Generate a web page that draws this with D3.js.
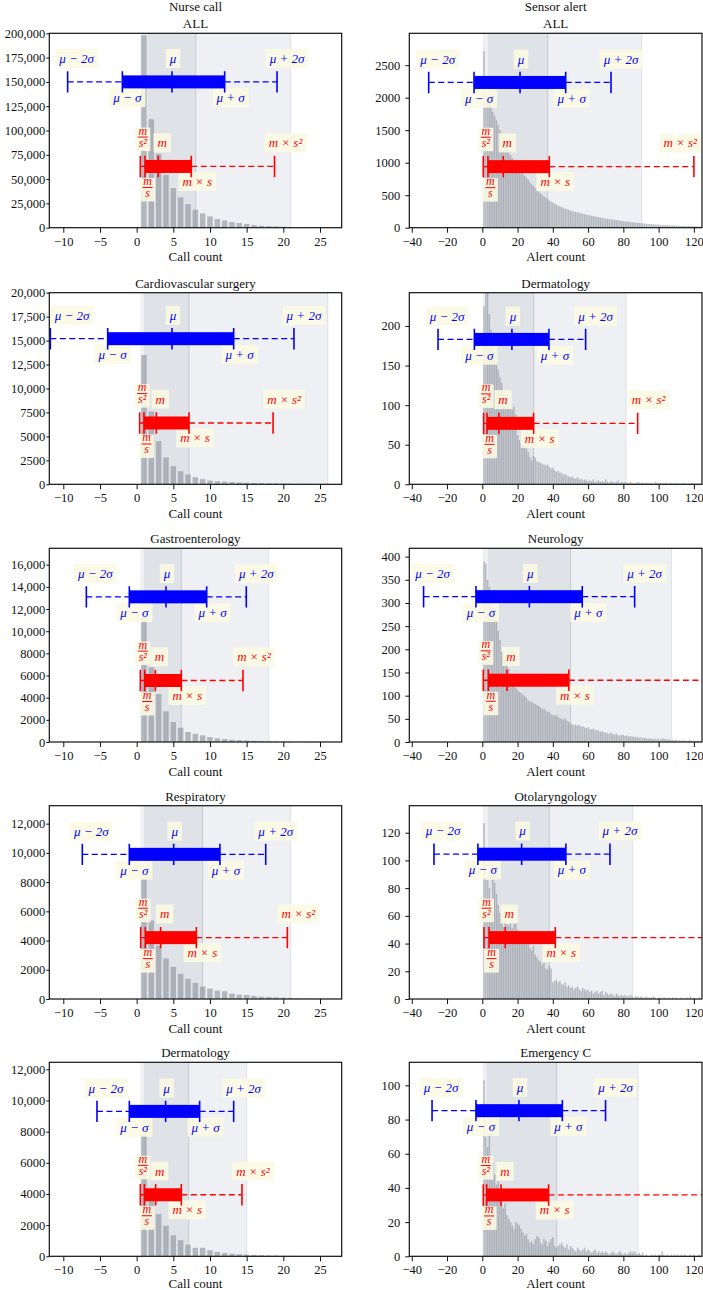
<!DOCTYPE html>
<html><head><meta charset="utf-8">
<script src="https://cdn.jsdelivr.net/npm/d3@7"></script>
<style>
body{margin:0;background:#fff;}
text{font-family:"Liberation Serif","Times New Roman",serif;}
</style></head><body>
<svg id="chart" width="703" height="1290"></svg>
<script>
// ---------------- DATA ----------------
const columnTitles = ["Nurse call", "Sensor alert"];
const leftTitles = ["ALL", "Cardiovascular surgery", "Gastroenterology", "Respiratory", "Dermatology"];
const rightTitles = ["ALL", "Dermatology", "Neurology", "Otolaryngology", "Emergency C"];
const leftXLabel = "Call count";
const rightXLabel = "Alert count";
const leftXTicks = [-10, -5, 0, 5, 10, 15, 20, 25];
const rightXTicks = [-40, -20, 0, 20, 40, 60, 80, 100, 120];
const leftXDomain = [-11.91, 27.96];
const rightXDomain = [-41.4, 124.6];
const leftYMax = [200000, 20000, 17480, 13230, 12450];
const rightYMax = [2990, 242, 418, 139.5, 113.5];
const leftYStep = [25000, 2500, 2000, 2000, 2000];
const rightYStep = [500, 50, 50, 20, 20];

// histogram counts (bin 1, 2, 3, ...)
const nurseAll = [198000,111600,76000,54500,40750,31200,24300,18500,14700,11600,8900,7500,5800,4800,3800,2700,2000,1700,1400,1000,700,500,400,300,250,200,150];
const nurseCardio = [13500,7600,4500,2800,1900,1370,1020,740,530,390,320,280,240,200,170,140,120,100,85,70,60,50,40,30,25,20,15];
const nurseGastro = [11600,6740,4330,2770,1800,1290,900,750,600,450,330,270,210,170,140,110,90,70,55,45,35,28,22,18,14,10,8];
const nurseResp = [8200,5380,3650,2780,2200,1720,1380,1100,850,710,575,530,370,300,280,210,160,140,115,90,75,60,50,40,35,28,22];
const nurseDerm = [7800,4280,2710,1960,1350,1030,750,540,540,390,280,215,170,130,110,90,70,55,45,35,28,22,18,14,10,8,6];

const sensorAll = [2720,2050,2000,1950,1880,1780,1720,1650,1580,1500,
1440,1380,1300,1240,1170,1120,1070,1020,980,940,
900,870,830,800,770,740,700,670,640,610,
580,555,530,505,480,460,440,420,400,385,
370,355,340,328,316,305,295,285,275,266,
258,250,242,235,228,221,214,208,202,196,
190,184,178,172,167,162,157,152,147,142,
137,133,129,125,121,117,113,109,105,101,
97,94,91,88,85,82,79,76,73,70,
67,65,62,60,57,55,53,51,49,47,
45,43,42,40,39,37,36,35,33,32,
31,30,29,28,27,26,25,24,23,22,
21,21,20,19];
const sensorDerm = [225,250,248,215,195,178,165,152,145,135,
128,118,112,106,100,97,94,98,88,62,
56,52,50,48,45,41,34,30,36,34,
29,28,27,26,25,24,25,22,20,21,
18,16,17,15,14,12,13,11,10,9,
10,8,7,9,6,7,5,6,5,4,
5,4,6,3,4,5,3,4,3,6,
3,2,4,3,2,3,5,2,3,2,
3,2,2,3,2,1,2,3,2,2,
2,1,2,2,1,2,1,3,2,1,
2,1,1,2,1,1,2,1,1,2,
1,1,1,2,1,1,1,1,2,1,
1,1,1,1];
const sensorNeuro = [390,385,350,335,310,290,270,262,240,220,
195,188,180,168,158,140,130,125,118,112,
108,106,102,100,95,90,88,86,84,82,
80,78,74,70,73,68,64,66,60,58,
56,59,54,52,50,48,51,46,44,40,
38,36,38,35,37,33,34,31,30,32,
28,27,29,25,26,24,22,23,21,20,
19,18,20,17,16,18,15,14,16,15,
13,14,12,13,11,12,10,11,9,10,
8,9,8,7,8,7,6,7,6,7,
5,8,7,6,5,6,4,5,4,5,
3,4,3,4,3,2,3,4,2,3,
2,3,2,2];
const sensorOto = [127,88,86,80,72,86,84,76,68,62,
58,52,56,54,53,55,51,54,56,50,
47,48,43,45,42,40,37,35,38,32,
30,28,27,25,26,22,21,24,22,12,
13,14,12,13,11,10,12,9,10,8,
9,7,8,9,7,6,8,7,6,7,
5,6,4,5,6,4,5,6,3,5,
4,3,4,3,2,4,3,2,3,2,
3,2,2,3,2,1,2,2,1,2,
1,1,2,1,1,1,2,1,0,1,
1,0,1,1,0,1,0,1,0,1,
0,0,1,0,0,1,0,2,0,1,
0,0,1,0];
const sensorEmC = [103,70,64,72,58,55,48,42,44,36,
30,28,31,24,22,20,18,16,20,19,
18,16,14,12,13,10,8,9,7,10,
12,11,8,7,10,9,6,8,10,11,
6,5,6,7,8,6,5,7,4,6,
5,4,3,5,4,3,4,5,3,4,
3,2,3,4,2,3,2,3,2,3,
2,1,2,3,2,1,2,3,2,1,
2,1,2,3,2,3,2,1,2,1,
2,0,1,0,0,1,0,1,0,1,
1,3,1,0,1,0,1,0,1,0,
1,0,1,0,1,0,0,1,0,1,
0,0,1,0];

// shaded bands: [light start, dark start, dark end, light end]
const leftBands = [[0.5,1.5,8.05,21.0],[0.5,1.0,7.14,26.05],[0.5,1.0,6.09,18.0],[0.5,1.0,9.0,21.0],[0.5,1.0,7.1,15.0]];
const rightBands = [[0.2,3.2,37.1,90.4],[0.2,2.5,29.1,81.5],[0.2,3.2,50.1,107.4],[0.2,3.2,38.0,85.3],[0.2,2.46,42.2,88.3]];

// mean / sd markers: [mu-2s, mu-s, mu, mu+s, mu+2s]
const leftMuSigma = [[-9.41,-1.95,4.82,12.0,19.14],[-11.77,-3.95,4.82,13.23,21.45],[-6.86,-1.0,4.0,9.55,14.95],[-7.41,-1.0,5.05,11.36,17.6],[-5.41,-1.0,3.95,8.59,13.23]];
const leftMuY = [150000, 15200, 13100, 9900, 9300];
const rightMuSigma = [[-30.4,-4.7,21.4,47.3,73.0],[-25.1,-4.5,16.8,37.8,58.6],[-33.3,-3.6,26.7,56.7,86.4],[-27.4,-2.5,22.3,47.4,72.4],[-28.5,-3.6,20.8,45.4,69.9]];
const rightMuY = [2234, 183, 313.6, 104.5, 85.2];
// geometric markers: [m/s^2, m/s, m, m*s, m*s^2]
const leftGeo = [[0.5,1.14,2.95,7.45,18.8],[0.41,1.0,2.68,7.14,18.6],[0.5,1.09,2.55,6.09,14.5],[0.55,1.18,3.27,8.14,20.55],[0.5,1.05,2.59,6.09,14.36]];
const leftGeoY = [63000, 6400, 5550, 4200, 3950];
const rightGeo = [[0.57,3.2,11.9,38.0,120.0],[0.76,2.65,9.45,29.1,88.1],[0.57,3.4,14.0,49.1,175],[0.95,3.8,13.0,41.4,150],[0.57,2.46,10.6,37.6,150]];
const rightGeoY = [939, 77, 133.3, 44.3, 35.9];

const leftCounts = [nurseAll, nurseCardio, nurseGastro, nurseResp, nurseDerm];
const rightCounts = [sensorAll, sensorDerm, sensorNeuro, sensorOto, sensorEmC];

const blueLabels = ["μ − 2σ", "μ − σ", "μ", "μ + σ", "μ + 2σ"];
const redLabels = [["m","s²"], ["m","s"], "m", "m × s", "m × s²"];

// ---------------- LAYOUT ----------------
const rowTop = [33.3, 292.7, 548.3, 805.7, 1062.3];
const rowBottom = [227.7, 484.3, 742, 999, 1256.3];
const leftX = [49.3, 341.7];
const rightX = [409.3, 702];

const svg = d3.select("#chart");
const BLUE = "#0000ff", RED = "#ff0000";
let clipId = 0;

function yFmt(v) { return v >= 10000 ? d3.format(",")(v) : String(v); }
function xFmt(v) { return v < 0 ? "\u2212" + Math.abs(v) : String(v); }

function drawPanel(o) {
  const [x0, x1] = o.xr; const y0 = o.top, y1 = o.bottom;
  const x = d3.scaleLinear().domain(o.xDomain).range([x0, x1]);
  const y = d3.scaleLinear().domain([0, o.yMax]).range([y1, y0]);
  const id = "clip" + (clipId++);
  svg.append("clipPath").attr("id", id).append("rect")
    .attr("x", x0).attr("y", y0).attr("width", x1 - x0).attr("height", y1 - y0);
  const pg = svg.append("g").attr("clip-path", `url(#${id})`);
  const b = o.bands;
  pg.append("rect").attr("x", x(b[0])).attr("width", x(b[3]) - x(b[0]))
    .attr("y", y0).attr("height", y1 - y0).attr("fill", "#eef0f3");
  pg.append("rect").attr("x", x(b[1])).attr("width", x(b[2]) - x(b[1]))
    .attr("y", y0).attr("height", y1 - y0).attr("fill", "#dfe2e7");
  pg.append("line").attr("x1", x(b[2])).attr("x2", x(b[2])).attr("y1", y0).attr("y2", y1)
    .attr("stroke", "#c6cad1").attr("stroke-width", 1);
  pg.append("line").attr("x1", x(b[3])).attr("x2", x(b[3])).attr("y1", y0).attr("y2", y1)
    .attr("stroke", "#dde0e6").attr("stroke-width", 1);

  const bw = o.barW;
  pg.selectAll("rect.bar").data(o.counts).join("rect").attr("class", "bar")
    .attr("x", (d, i) => x(i + 1 - bw / 2)).attr("width", x(bw) - x(0))
    .attr("y", d => y(d)).attr("height", d => y1 - y(d))
    .attr("fill", "#8a8f99").attr("fill-opacity", 0.6);

  const boxLayer = svg.append("g");
  const lineLayer = svg.append("g").attr("clip-path", `url(#${id})`);
  const textLayer = svg.append("g");

  function errorBar(vals, yv, color) {
    const yy = y(yv);
    const xs = vals.map(v => x(v));
    lineLayer.append("line").attr("x1", xs[0]).attr("x2", xs[1]).attr("y1", yy).attr("y2", yy)
      .attr("stroke", color).attr("stroke-width", 1.3).attr("stroke-dasharray", "6,3.5");
    lineLayer.append("line").attr("x1", xs[3]).attr("x2", xs[4]).attr("y1", yy).attr("y2", yy)
      .attr("stroke", color).attr("stroke-width", 1.3).attr("stroke-dasharray", "6,3.5");
    lineLayer.append("rect").attr("x", xs[1]).attr("width", xs[3] - xs[1])
      .attr("y", yy - 6.5).attr("height", 13).attr("fill", color);
    xs.forEach(xv => lineLayer.append("line").attr("x1", xv).attr("x2", xv)
      .attr("y1", yy - 10.7).attr("y2", yy + 10.7).attr("stroke", color).attr("stroke-width", 1.6));
    return { yy, xs };
  }

  function label(tx, cx, cy, content, color, frac) {
    if (tx < x0 - 0.5 || tx > x1 + 0.5) return;
    const tg = textLayer.append("g");
    let w, top, h;
    if (!frac) {
      const t = tg.append("text").attr("text-anchor", "middle").attr("y", 4.5)
        .attr("font-size", 13).attr("font-style", "italic").attr("fill", color).text(content);
      w = t.node().getComputedTextLength() + 8; top = -9.5; h = 19;
    } else {
      tg.append("text").attr("text-anchor", "middle").attr("y", -2.5)
        .attr("font-size", 12).attr("font-style", "italic").attr("fill", color).text(content[0]);
      tg.append("line").attr("x1", -5).attr("x2", 5).attr("y1", 0).attr("y2", 0)
        .attr("stroke", color).attr("stroke-width", 1);
      tg.append("text").attr("text-anchor", "middle").attr("y", 9.5)
        .attr("font-size", 12).attr("font-style", "italic").attr("fill", color).text(content[1]);
      w = 15; top = -9.5; h = 23.5;
    }
    if (cx - w / 2 < x0 + 1.5) cx = x0 + 1.5 + w / 2;
    if (cx + w / 2 > x1 - 1) cx = x1 - 1 - w / 2;
    tg.attr("transform", `translate(${cx},${cy})`);
    boxLayer.append("rect").attr("x", cx - w / 2).attr("y", cy + top).attr("width", w).attr("height", h)
      .attr("fill", "#fafae3").attr("fill-opacity", 0.9);
  }

  const bb = errorBar(o.mu, o.muY, BLUE);
  const bOff = [9, 5, 1, 6, 10];
  blueLabels.forEach((t, i) => {
    const above = i % 2 === 0;
    label(bb.xs[i], bb.xs[i] + bOff[i], bb.yy + (above ? -23.3 : 15.8), t, BLUE, false);
  });
  const rb = errorBar(o.geo, o.geoY, RED);
  const rOff = [2.5, 2.5, 4, 6, 11];
  redLabels.forEach((t, i) => {
    const above = i % 2 === 0;
    const frac = Array.isArray(t);
    let cy;
    if (frac) cy = rb.yy + (above ? -29.4 : 21);
    else cy = rb.yy + (above ? -23.7 : 15);
    label(rb.xs[i], rb.xs[i] + rOff[i], cy, t, RED, frac);
  });

  // axes
  const ax = svg.append("g").attr("transform", `translate(0,${y1})`)
    .call(d3.axisBottom(x).tickValues(o.xTicks).tickFormat(xFmt).tickSize(5).tickPadding(4));
  const yTicks = d3.range(0, o.yMax + 1e-6, o.yStep);
  const ay = svg.append("g").attr("transform", `translate(${x0},0)`)
    .call(d3.axisLeft(y).tickValues(yTicks).tickFormat(yFmt).tickSize(o.ySize).tickPadding(o.yPad));
  [ax, ay].forEach(a => {
    a.attr("font-family", null);
    a.select(".domain").remove();
    a.selectAll("text").attr("font-size", 12.5).attr("fill", "#111")
      .style("font-family", '"Liberation Serif", serif');
    a.selectAll("line").attr("stroke", "#111");
  });

  svg.append("rect").attr("x", x0).attr("y", y0).attr("width", x1 - x0).attr("height", y1 - y0)
    .attr("fill", "none").attr("stroke", "#111").attr("stroke-width", 1.2);

  svg.append("text").attr("x", (x0 + x1) / 2).attr("y", y0 - 5).attr("text-anchor", "middle")
    .attr("font-size", 13).attr("fill", "#111").text(o.title);
  svg.append("text").attr("x", (x0 + x1) / 2).attr("y", Math.min(y1 + 33.5, 1288))
    .attr("text-anchor", "middle").attr("font-size", 13).attr("fill", "#111").text(o.xLabel);
}

for (let r = 0; r < 5; r++) {
  drawPanel({ xr: leftX, top: rowTop[r], bottom: rowBottom[r], xDomain: leftXDomain, yMax: leftYMax[r],
    yStep: leftYStep[r], counts: leftCounts[r], bands: leftBands[r], mu: leftMuSigma[r], muY: leftMuY[r],
    geo: leftGeo[r], geoY: leftGeoY[r], title: leftTitles[r], xLabel: leftXLabel, xTicks: leftXTicks,
    barW: 0.75, ySize: 3, yPad: 1 });
  drawPanel({ xr: rightX, top: rowTop[r], bottom: rowBottom[r], xDomain: rightXDomain, yMax: rightYMax[r],
    yStep: rightYStep[r], counts: rightCounts[r], bands: rightBands[r], mu: rightMuSigma[r], muY: rightMuY[r],
    geo: rightGeo[r], geoY: rightGeoY[r], title: rightTitles[r], xLabel: rightXLabel, xTicks: rightXTicks,
    barW: 0.8, ySize: 4, yPad: 5 });
}
svg.append("text").attr("x", (leftX[0] + leftX[1]) / 2).attr("y", 10.5).attr("text-anchor", "middle")
  .attr("font-size", 13).attr("fill", "#111").text(columnTitles[0]);
svg.append("text").attr("x", (rightX[0] + rightX[1]) / 2).attr("y", 10.5).attr("text-anchor", "middle")
  .attr("font-size", 13).attr("fill", "#111").text(columnTitles[1]);
</script></body></html>
